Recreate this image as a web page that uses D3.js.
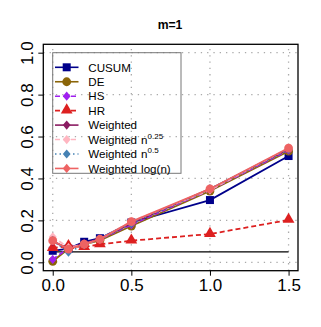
<!DOCTYPE html>
<html>
<head>
<meta charset="utf-8">
<script src="https://cdn.jsdelivr.net/npm/d3@7"></script>
<style>
  body { margin: 0; background: #fff; }
  text { font-family: "Liberation Sans", Arial, sans-serif; }
</style>
</head>
<body>
<script>
var width = 321,
    height = 327;

// data
var xs = [0, 0.1, 0.2, 0.3, 0.5, 1.0, 1.5];
var cusum   = [0.055, 0.065, 0.098, 0.115, 0.190, 0.297, 0.507];
var de      = [0.005, 0.065, 0.085, 0.105, 0.173, 0.340, 0.530];
var hs      = [0.014, 0.068, 0.088, 0.110, 0.180, 0.345, 0.535];
var hr      = [0.068, 0.077, 0.073, 0.086, 0.103, 0.135, 0.202];
var wtd     = [0.100, 0.065, 0.090, 0.112, 0.185, 0.350, 0.540];
var wtd025  = [0.122, 0.070, 0.085, 0.110, 0.195, 0.345, 0.545];
var wtd05   = [0.105, 0.048, 0.085, 0.110, 0.186, 0.350, 0.540];
var wtdlog  = [0.103, 0.063, 0.087, 0.110, 0.194, 0.350, 0.545];
var level = 0.05;

var xTicks = [0, 0.5, 1.0, 1.5];
var yTicks = [0, 0.2, 0.4, 0.6, 0.8, 1.0];

var series = [
    {name: 'CUSUM', vals: cusum, color: '#00008b', dash: null, shape: 'square'},
    {name: 'DE', vals: de, color: '#8b6508', dash: null, shape: 'circle'},
    {name: 'HS', vals: hs, color: '#a020f0', dash: '5,3', shape: 'diamond'},
    {name: 'HR', vals: hr, color: '#dd2020', dash: '5,3', shape: 'triangle'},
    {name: 'Weighted', vals: wtd, color: '#8b1c62', dash: null, shape: 'diamond'},
    {name: 'Weighted n', sup: '0.25', vals: wtd025, color: '#ffb6c1', dash: '5,3', shape: 'diamond'},
    {name: 'Weighted n', sup: '0.5', vals: wtd05, color: '#4682b4', dash: '1.5,3', shape: 'diamond'},
    {name: 'Weighted log(n)', vals: wtdlog, color: '#ee6363', dash: null, shape: 'circle'}
];

var svg = d3.select('body')
    .append('svg')
    .attr('width', width)
    .attr('height', height);

var x = d3.scaleLinear()
    .domain([-0.06, 1.56])
    .range([43.3, 298]);

var y = d3.scaleLinear()
    .domain([-0.04, 1.04])
    .range([270.7, 44.3]);

// grid
svg.selectAll('line.vgrid')
    .data(xTicks)
    .enter()
    .append('line')
    .attr('x1', function(d) { return x(d); })
    .attr('x2', function(d) { return x(d); })
    .attr('y1', y.range()[0])
    .attr('y2', y.range()[1])
    .attr('stroke', '#aaaaaa')
    .attr('stroke-width', 1.3)
    .attr('stroke-dasharray', '1.3,5');

svg.selectAll('line.hgrid')
    .data(yTicks)
    .enter()
    .append('line')
    .attr('y1', function(d) { return y(d); })
    .attr('y2', function(d) { return y(d); })
    .attr('x1', x.range()[0])
    .attr('x2', x.range()[1])
    .attr('stroke', '#aaaaaa')
    .attr('stroke-width', 1.3)
    .attr('stroke-dasharray', '1.3,5');

// axes
var xAxis = d3.axisBottom(x).tickValues(xTicks).tickSize(5).tickPadding(3)
    .tickFormat(d3.format('.1f'));
var gx = svg.append('g')
    .attr('transform', 'translate(0,' + y.range()[0] + ')')
    .call(xAxis);
gx.select('.domain').remove();
gx.selectAll('text').attr('font-size', 17).attr('font-family', '"Liberation Sans", Arial, sans-serif')
    .attr('fill', '#000');

var yAxis = d3.axisLeft(y).tickValues(yTicks).tickSize(5).tickFormat(d3.format('.1f'));
var gy = svg.append('g')
    .attr('transform', 'translate(' + x.range()[0] + ',0)')
    .call(yAxis);
gy.select('.domain').remove();
gy.selectAll('text')
    .attr('x', null).attr('dy', null)
    .attr('text-anchor', 'middle')
    .attr('font-size', 17).attr('font-family', '"Liberation Sans", Arial, sans-serif')
    .attr('fill', '#000')
    .attr('transform', 'translate(-10.5,0) rotate(-90)');

// box
svg.append('rect')
    .attr('x', x.range()[0]).attr('y', y.range()[1])
    .attr('width', x.range()[1] - x.range()[0])
    .attr('height', y.range()[0] - y.range()[1])
    .attr('fill', 'none')
    .attr('stroke', '#000')
    .attr('stroke-width', 1.3);

// title
svg.append('text')
    .attr('x', 170).attr('y', 28.7)
    .attr('text-anchor', 'middle')
    .attr('font-size', 12.2)
    .attr('font-weight', 'bold')
    .text('m=1');

// nominal level
svg.append('line')
    .attr('x1', x(0)).attr('x2', x(1.5))
    .attr('y1', y(level)).attr('y2', y(level))
    .attr('stroke', '#000')
    .attr('stroke-width', 1.3);

var drawShape = function(g, shape, cx, cy, color) {
    if (shape === 'square') {
        g.append('rect').attr('x', cx - 4).attr('y', cy - 4)
            .attr('width', 8).attr('height', 8).attr('fill', color);
    } else if (shape === 'circle') {
        g.append('circle').attr('cx', cx).attr('cy', cy).attr('r', 4.4).attr('fill', color);
    } else if (shape === 'triangle') {
        g.append('path').attr('d', d3.symbol(d3.symbolTriangle, 60)())
            .attr('transform', 'translate(' + cx + ',' + (cy - 0.5) + ')').attr('fill', color);
    } else {
        g.append('path').attr('d', 'M0,-4.6L3.9,0L0,4.6L-3.9,0Z')
            .attr('transform', 'translate(' + cx + ',' + cy + ')').attr('fill', color);
    }
};

var line = d3.line()
    .x(function(d) { return x(d[0]); })
    .y(function(d) { return y(d[1]); });

series.forEach(function(s) {
    var pts = xs.map(function(v, i) { return [v, s.vals[i]]; });
    var g = svg.append('g');
    g.append('path')
        .attr('d', line(pts))
        .attr('fill', 'none')
        .attr('stroke', s.color)
        .attr('stroke-width', 1.8)
        .attr('stroke-dasharray', s.dash);
    pts.forEach(function(p) {
        drawShape(g, s.shape, x(p[0]), y(p[1]), s.color);
    });
});

// legend
var legend = svg.append('g');
legend.append('rect')
    .attr('x', 52.7).attr('y', 52.7)
    .attr('width', 128.3).attr('height', 120.6)
    .attr('fill', 'none')
    .attr('stroke', '#777')
    .attr('stroke-width', 1);

series.forEach(function(s, i) {
    var ly = 67.3 + i * 14.45;
    var g = legend.append('g');
    g.append('line')
        .attr('x1', 55).attr('x2', 78.5)
        .attr('y1', ly).attr('y2', ly)
        .attr('stroke', s.color)
        .attr('stroke-width', 1.6)
        .attr('stroke-dasharray', s.dash);
    drawShape(g, s.shape === 'circle' && i > 1 ? 'diamond' : s.shape, 66.7, ly, s.color);
    var t = g.append('text')
        .attr('x', 88.3).attr('y', ly + 4.2)
        .attr('font-size', 11.6)
        .attr('fill', '#000');
    if (s.sup) {
        t.append('tspan').text('Weighted');
        t.append('tspan').attr('dx', 4).text('n');
        t.append('tspan').attr('dy', -5).attr('font-size', 8).text(s.sup);
    } else if (s.name === 'Weighted log(n)') {
        t.append('tspan').text('Weighted');
        t.append('tspan').attr('dx', 4).text('log(n)');
    } else {
        t.text(s.name);
    }
});
</script>
</body>
</html>
